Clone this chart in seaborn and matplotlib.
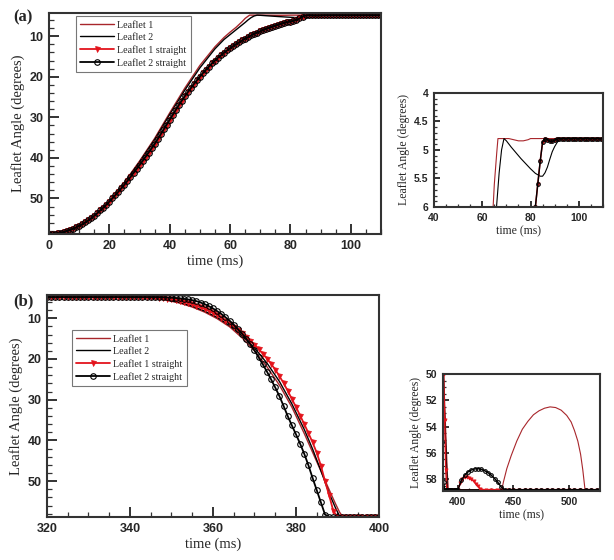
import matplotlib
matplotlib.use('Agg')
import matplotlib.pyplot as plt
from matplotlib.ticker import MultipleLocator
import numpy as np
import seaborn as sns

#%% data
# (a) opening phase
t_a_l1 = [0, 5, 10, 15, 20, 25, 30, 35, 40, 45, 50, 55, 58, 60, 62, 63, 64, 65, 66, 66.5,
          68, 71, 73, 75, 77, 79, 80, 85, 90, 100, 110]
ang_a_l1 = [58.8, 58.3, 56.8, 54.2, 50.5, 46.0, 40.8, 35.2, 28.9, 22.8, 17.2, 12.6, 10.3, 9.0, 7.8, 7.1,
            6.4, 5.6, 5.05, 4.8, 4.8, 4.8, 4.82, 4.84, 4.84, 4.82, 4.8, 4.8, 4.8, 4.8, 4.8]

t_a_l2 = [0, 5, 10, 15, 20, 25, 30, 35, 40, 45, 50, 55, 58, 60, 62, 64, 65, 66, 67, 68, 69, 70,
          72, 74, 76, 78, 80, 82, 84, 85, 86, 87, 88, 89, 90, 91, 92, 93, 100, 110]
ang_a_l2 = [58.8, 58.3, 56.8, 54.2, 50.6, 46.2, 41.0, 35.5, 29.3, 23.3, 17.8, 13.1, 10.8, 9.6, 8.4,
            7.2, 6.6, 5.95, 5.4, 5.0, 4.8, 4.84, 4.95, 5.05, 5.15, 5.24, 5.33, 5.41, 5.46, 5.46, 5.4,
            5.3, 5.16, 5.03, 4.94, 4.87, 4.82, 4.8, 4.8, 4.8]

# both straight leaflets coincide in (a)
t_a_s = np.arange(0, 111)
ang_a_s = [58.8, 58.78, 58.72, 58.62, 58.48, 58.3, 58.06, 57.78, 57.48, 57.15,
           56.8, 56.38, 55.92, 55.42, 54.88, 54.3, 53.66, 52.98, 52.28, 51.55,
           50.8, 50.0, 49.18, 48.34, 47.48, 46.6, 45.66, 44.7, 43.74, 42.77,
           41.8, 40.78, 39.75, 38.7, 37.65, 36.6, 35.4, 34.2, 33.0, 31.8,
           30.6, 29.4, 28.2, 27.0, 25.9, 24.8, 23.8, 22.8, 21.8, 20.9,
           20.0, 19.1, 18.3, 17.5, 16.7, 16.0, 15.3, 14.7, 14.1, 13.5,
           12.95, 12.45, 11.95, 11.5, 11.05, 10.6, 10.2, 9.8, 9.45, 9.1,
           8.8, 8.5, 8.2, 7.92, 7.65, 7.4, 7.15, 6.92, 6.72, 6.55,
           6.4, 6.2, 6.0, 5.6, 5.2, 4.86, 4.8, 4.82, 4.85, 4.85,
           4.83, 4.81, 4.8, 4.8, 4.8, 4.8, 4.8, 4.8, 4.8, 4.8,
           4.8, 4.8, 4.8, 4.8, 4.8, 4.8, 4.8, 4.8, 4.8, 4.8, 4.8]

# (b) closing phase
t_b_l1 = [320, 340, 343, 346, 349, 352, 355, 358, 361, 364, 367, 370, 373, 376, 379, 382, 384, 386,
          388, 389.5, 390.5, 391.3, 439.5, 441, 444, 448, 453, 458, 463, 468, 473, 478, 483, 488,
          493, 498, 502, 505, 508, 510.5, 512.5, 514.5, 530]
ang_b_l1 = [4.8, 4.8, 4.9, 5.15, 5.6, 6.3, 7.25, 8.5, 10.1, 12.1, 14.8, 18.0, 21.9, 26.4, 31.8, 38.3,
            42.9, 47.5, 52.1, 55.5, 57.6, 58.8, 58.8, 58.2, 57.2, 56.2, 55.1, 54.2, 53.6, 53.1, 52.8,
            52.6, 52.5, 52.55, 52.75, 53.15, 53.65, 54.3, 55.1, 56.1, 57.3, 58.8, 58.8]

t_b_l2 = [320, 340, 343, 346, 349, 352, 355, 358, 361, 364, 367, 370, 373, 376, 379, 382, 384, 386,
          388, 389.5, 390.6, 530]
ang_b_l2 = [4.8, 4.8, 4.88, 5.1, 5.5, 6.15, 7.05, 8.25, 9.8, 11.8, 14.3, 17.3, 21.0, 25.5, 31.0, 37.3,
            42.1, 47.4, 53.0, 56.5, 58.8, 58.8]

t_b_s1 = list(range(320, 401)) + [402, 404, 406, 408, 410, 412, 414, 416, 418, 420, 421, 425, 430,
                                  435, 440, 445, 450, 455, 460, 465, 470, 475, 480, 485, 490, 495,
                                  500, 505, 510, 515, 520, 525, 530]
ang_b_s1 = [4.8, 4.8, 4.8, 4.8, 4.8, 4.8, 4.8, 4.8, 4.8, 4.8, 4.8, 4.8, 4.8, 4.8, 4.8, 4.8, 4.8,
            4.8, 4.8, 4.8, 4.8, 4.8, 4.8, 4.8, 4.8,
            4.83, 4.88, 4.95, 5.05, 5.17, 5.3, 5.5, 5.75, 6.0, 6.3,
            6.6, 6.95, 7.35, 7.75, 8.2, 8.7, 9.3, 9.9, 10.6, 11.3,
            12.1, 12.9, 13.7, 14.6, 15.5, 16.5, 17.6, 18.7, 19.9, 21.2,
            22.6, 24.2, 25.9, 27.8, 29.8, 31.8, 33.9, 36.0, 38.2, 40.5,
            43.0, 46.2, 50.0, 53.5, 57.3,
            58.8, 58.8, 58.8, 58.8, 58.8, 58.8, 58.8, 58.8, 58.8, 58.8, 58.8,
            58.3, 58.0, 57.87, 57.85, 57.9, 58.0, 58.15, 58.35, 58.55, 58.72, 58.8,
            58.8, 58.8, 58.8, 58.8, 58.8, 58.8, 58.8, 58.8, 58.8, 58.8, 58.8, 58.8, 58.8, 58.8,
            58.8, 58.8, 58.8, 58.8, 58.8, 58.8, 58.8, 58.8]

t_b_s2 = list(range(320, 401)) + [403, 406, 409, 412, 415, 418, 421, 424, 427, 430, 433, 436, 439,
                                  442, 446, 450, 455, 460, 465, 470, 475, 480, 485, 490, 495, 500,
                                  505, 510, 515, 520, 525, 530]
ang_b_s2 = [4.8, 4.8, 4.8, 4.8, 4.8, 4.8, 4.8, 4.8, 4.8, 4.8, 4.8, 4.8, 4.8, 4.8, 4.8, 4.8, 4.8,
            4.8, 4.8, 4.8, 4.8, 4.8, 4.8, 4.8, 4.8, 4.8, 4.8,
            4.82, 4.85, 4.9, 4.96, 5.03, 5.12, 5.25, 5.4, 5.58, 5.8,
            6.15, 6.55, 7.05, 7.6, 8.25, 8.95, 9.75, 10.6, 11.6, 12.7,
            13.8, 15.0, 16.4, 17.9, 19.6, 21.3, 23.1, 25.0, 27.0, 29.1,
            31.5, 34.0, 36.3, 38.5, 40.8, 43.3, 46.1, 49.2, 52.2, 55.2,
            58.2,
            58.8, 58.8, 58.8, 58.8, 58.8, 58.8, 58.8, 58.8, 58.8, 58.8, 58.8, 58.8, 58.8,
            58.1, 57.7, 57.45, 57.3, 57.22, 57.2, 57.25, 57.35, 57.5, 57.7, 57.95, 58.25, 58.6,
            58.8, 58.8, 58.8, 58.8, 58.8, 58.8, 58.8, 58.8, 58.8, 58.8, 58.8, 58.8, 58.8, 58.8,
            58.8, 58.8, 58.8, 58.8, 58.8]

labels = ['Leaflet 1', 'Leaflet 2', 'Leaflet 1 straight', 'Leaflet 2 straight']

#%% style
sns.set_theme(style='white')
plt.rcParams['font.family'] = ['Liberation Serif', 'DejaVu Serif']
plt.rcParams['axes.edgecolor'] = '#333333'
plt.rcParams['axes.linewidth'] = 1.5

red_dark = '#a8262b'
red = '#e3141c'


def draw_series(ax, curves, small=False):
    ms = 2.6 if small else 4.0
    lw = 0.8 if small else 1.0
    for (tt, vv), col, lab, mk in zip(curves, [red_dark, 'black', red, 'black'], labels,
                                      [None, None, 'v', 'o']):
        kw = dict(color=col, lw=lw, label=None if small else lab, errorbar=None)
        if mk == 'v':
            kw.update(marker='v', ms=ms * 0.9, mfc=red, mec=red, mew=0.5, lw=lw * 1.3)
        elif mk == 'o':
            kw.update(marker='o', ms=ms, mfc='none', mec='black', mew=0.8, lw=lw * 1.3)
        sns.lineplot(x=tt, y=vv, ax=ax, **kw)


def fix_ticklabels(ax, fs):
    for lab in ax.get_xticklabels() + ax.get_yticklabels():
        lab.set_fontfamily('Liberation Sans')
        lab.set_fontweight('bold')
        lab.set_fontsize(fs)


def style_axes(ax, xmaj, xmin, ymaj, ymin, fs_tick, fs_lab, tick_len):
    ax.xaxis.set_major_locator(MultipleLocator(xmaj))
    ax.xaxis.set_minor_locator(MultipleLocator(xmin))
    ax.yaxis.set_major_locator(MultipleLocator(ymaj))
    ax.yaxis.set_minor_locator(MultipleLocator(ymin))
    ax.tick_params(which='both', direction='in', bottom=True, left=True, top=False, right=False,
                   color='#333333')
    ax.tick_params(which='major', length=tick_len, width=1.4, pad=4)
    ax.tick_params(which='minor', length=tick_len / 2, width=0.9)
    fix_ticklabels(ax, fs_tick)
    ax.set_xlabel('time (ms)', fontsize=fs_lab, labelpad=2)
    ax.set_ylabel('Leaflet Angle (degrees)', fontsize=fs_lab, labelpad=3)


def add_legend(ax, anchor):
    leg = ax.legend(loc='upper left', bbox_to_anchor=anchor, fontsize=7.2, frameon=True,
                    fancybox=False, edgecolor='#555555', handlelength=3.4, labelspacing=0.32,
                    borderpad=0.45, handletextpad=0.25, borderaxespad=0)
    leg.get_frame().set_linewidth(0.8)


fig = plt.figure(figsize=(6.14, 5.6), dpi=100)

# ---- (a) main
ax_a = fig.add_axes([0.0798, 0.582, 0.5407, 0.3946])
draw_series(ax_a, [(t_a_l1, ang_a_l1), (t_a_l2, ang_a_l2), (t_a_s, ang_a_s), (t_a_s, ang_a_s)])
ax_a.set_xlim(0, 110)
ax_a.set_ylim(58.8, 4.3)
style_axes(ax_a, 20, 5, 10, 2, 9, 10.5, 7)
ax_a.set_yticks([10, 20, 30, 40, 50])
fix_ticklabels(ax_a, 9)
add_legend(ax_a, (0.081, 0.986))

# ---- (a) inset
ax_ai = fig.add_axes([0.7068, 0.6304, 0.2752, 0.2036])
draw_series(ax_ai, [(t_a_l1, ang_a_l1), (t_a_l2, ang_a_l2), (t_a_s, ang_a_s), (t_a_s, ang_a_s)],
            small=True)
ax_ai.set_xlim(40, 110)
ax_ai.set_ylim(6, 4)
style_axes(ax_ai, 20, 5, 0.5, 0.1, 7.5, 8.5, 4)
ax_ai.set_yticks([4, 4.5, 5, 5.5, 6], ['4', '4.5', '5', '5.5', '6'])
fix_ticklabels(ax_ai, 7.5)

# ---- (b) main
ax_b = fig.add_axes([0.0765, 0.0768, 0.5407, 0.3964])
draw_series(ax_b, [(t_b_l1, ang_b_l1), (t_b_l2, ang_b_l2), (t_b_s1, ang_b_s1), (t_b_s2, ang_b_s2)])
ax_b.set_xlim(320, 400)
ax_b.set_ylim(58.8, 4.3)
style_axes(ax_b, 20, 5, 10, 2, 9, 10.5, 7)
ax_b.set_yticks([10, 20, 30, 40, 50])
fix_ticklabels(ax_b, 9)
add_legend(ax_b, (0.075, 0.842))

# ---- (b) inset
ax_bi = fig.add_axes([0.7215, 0.1232, 0.2557, 0.2089])
draw_series(ax_bi, [(t_b_l1, ang_b_l1), (t_b_l2, ang_b_l2), (t_b_s1, ang_b_s1), (t_b_s2, ang_b_s2)],
            small=True)
ax_bi.set_xlim(386.5, 528)
ax_bi.set_ylim(58.9, 50)
style_axes(ax_bi, 50, 10, 2, 0.5, 7.5, 8.5, 4)

fig.text(0.021, 1 - 17 / 560, '(a)', fontsize=12, fontweight='bold', va='center')
fig.text(0.021, 1 - 301 / 560, '(b)', fontsize=12, fontweight='bold', va='center')

fig.savefig('out.png', dpi=100)
